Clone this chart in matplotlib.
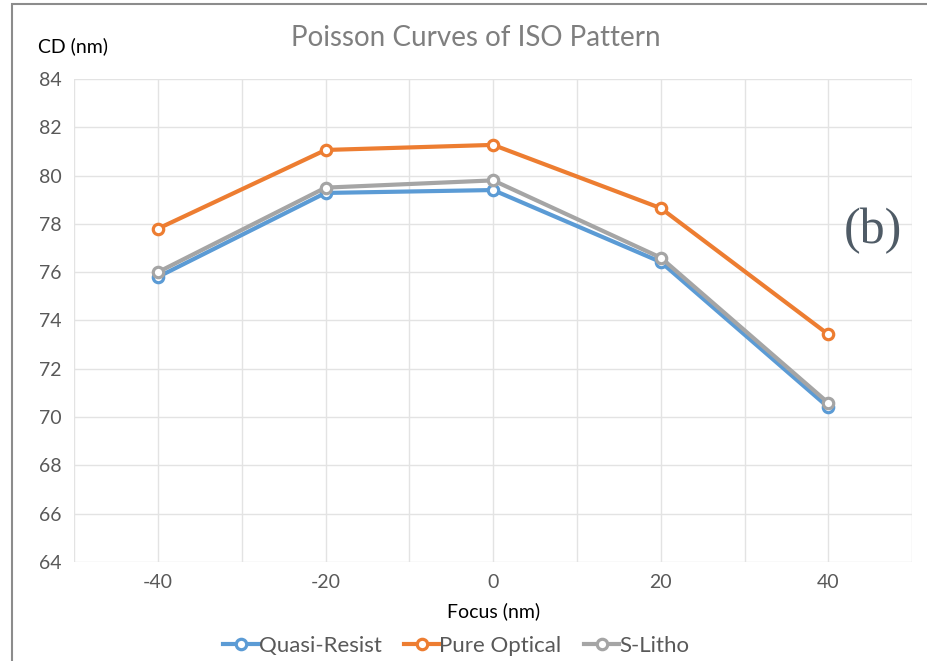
import matplotlib.pyplot as plt
from matplotlib.patches import Rectangle

focus = [-40, -20, 0, 20, 40]
quasi_resist = [75.8, 79.28, 79.4, 76.42, 70.4]
pure_optical = [77.8, 81.06, 81.27, 78.65, 73.42]
s_litho = [76.0, 79.5, 79.8, 76.6, 70.58]

series = [("Quasi-Resist", quasi_resist, "#5B9BD5"),
          ("Pure Optical", pure_optical, "#ED7D31"),
          ("S-Litho", s_litho, "#A5A5A5")]

plt.rcParams['font.family'] = ['Lato', 'DejaVu Sans']
plt.rcParams['axes.unicode_minus'] = False

fig = plt.figure(figsize=(9.27, 6.61), dpi=100)
ax = fig.add_axes([0.080, 0.150, 0.904, 0.7305])

for name, vals, col in series:
    ax.plot(focus, vals, color=col, lw=3.0, marker='o', ms=7.5,
            mfc='white', mec=col, mew=2.3, label=name)

ax.set_xlim(-50, 50)
ax.set_ylim(64, 84)
ax.set_xticks([-40, -20, 0, 20, 40])
ax.set_xticks(range(-50, 51, 10), minor=True)
ax.set_yticks(range(64, 85, 2))
ax.grid(True, which='both', color='#E3E3E3', lw=1.0)
ax.tick_params(which='both', length=0, labelsize=14, colors='#595959', pad=9)
for s in ax.spines.values():
    s.set_visible(False)
ax.set_axisbelow(True)

ax.set_xlabel("Focus (nm)", fontsize=14, color='black', labelpad=8)
fig.text(0.041, 0.93, "CD (nm)", fontsize=14, color='black', va='center')
fig.text(0.513, 0.943, "Poisson Curves of ISO Pattern", fontsize=20,
         color='#7F7F7F', ha='center', va='center')
fig.text(0.942, 0.651, "(b)", fontsize=36, family='Liberation Serif',
         color='#4F5B66', ha='center', va='center')

ax.legend(loc='lower center', bbox_to_anchor=(0.456, -0.236), ncol=3,
          frameon=False, fontsize=16, labelcolor='#595959', handlelength=1.6,
          handletextpad=0.0, columnspacing=1.0)

fig.patches.append(Rectangle((0.013, -0.1), 1.2, 1.094, transform=fig.transFigure,
                             fill=False, edgecolor='#8C8C8C', lw=1.5))

fig.savefig("out.png", dpi=100)
